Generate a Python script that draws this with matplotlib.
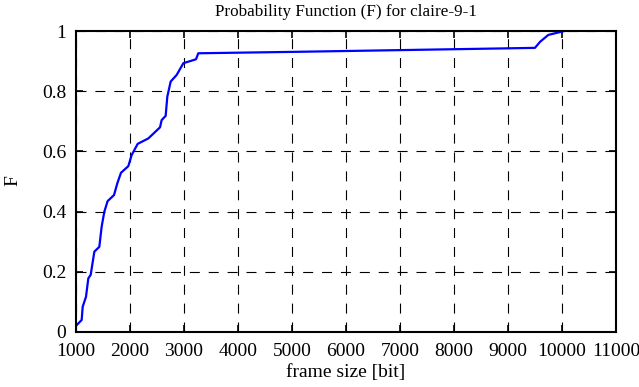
import matplotlib
matplotlib.use("Agg")
import matplotlib.pyplot as plt

frame_size = [1013, 1105, 1124, 1185, 1228, 1272, 1340, 1432, 1475, 1525, 1586, 1704,
              1765, 1833, 1969, 2031, 2142, 2339, 2556, 2586, 2660, 2691, 2753, 2864,
              2988, 3222, 3265, 5148, 8852, 9500, 9593, 9747, 10045]
prob = [0.023, 0.04, 0.084, 0.117, 0.178, 0.19, 0.267, 0.283, 0.35, 0.40, 0.435, 0.455,
        0.494, 0.529, 0.551, 0.588, 0.625, 0.643, 0.680, 0.704, 0.718, 0.782, 0.832, 0.854,
        0.893, 0.906, 0.926, 0.931, 0.942, 0.944, 0.964, 0.987, 1.0]

xticks = list(range(1000, 11001, 1000))
yticks = [0, 0.2, 0.4, 0.6, 0.8, 1]
ytick_labels = ["0", "0.2", "0.4", "0.6", "0.8", "1"]

plt.rcParams['font.family'] = ['Liberation Serif', 'DejaVu Serif']
fig = plt.figure(figsize=(6.39, 3.87), dpi=100)
ax = fig.add_axes([76/639, 1-332/387, 540/639, 301/387])
ax.plot(frame_size, prob, color='#0000ff', lw=1.6)
ax.set_xlim(1000, 11000)
ax.set_ylim(0, 1)
ax.set_xticks(xticks)
ax.set_xticklabels([str(t) for t in xticks])
ax.set_yticks(yticks)
ax.set_yticklabels(ytick_labels)
ax.tick_params(direction='in', length=5, width=1.2, labelsize=14, top=True, right=True)
ax.tick_params(axis='x', pad=8)
ax.tick_params(axis='y', pad=7)
ax.grid(True, color='black', linestyle=(0, (9, 8)), lw=0.8)
for s in ax.spines.values():
    s.set_linewidth(1.5)
ax.set_title("Probability Function (F) for claire-9-1", fontsize=12.3, pad=11)
ax.set_xlabel("frame size [bit]", fontsize=14, labelpad=3)
fig.text(13/639, 1-181/387, "F", fontsize=14, rotation=90, ha='center', va='center')
fig.savefig("out.png", dpi=100)
